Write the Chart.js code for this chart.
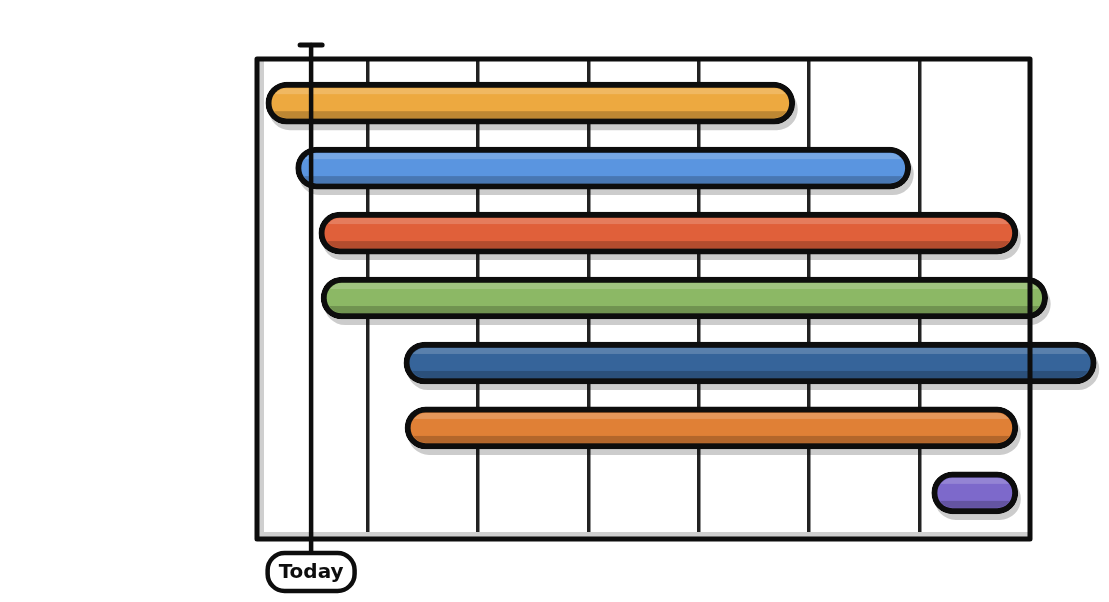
<!DOCTYPE html>
<html>
<head>
<meta charset="utf-8">
<script src="https://cdn.jsdelivr.net/npm/chart.js@4"></script>
<style>
  html, body { margin: 0; padding: 0; background: #ffffff; }
  #wrap { width: 1109px; height: 602px; }
</style>
</head>
<body>
<div id="wrap"><canvas id="c" width="1109" height="602"></canvas></div>
<script>
// ---- data ----
const categories = ["Task 1", "Task 2", "Task 3", "Task 4", "Task 5", "Task 6", "Task 7"];
const startValues = [0.08, 0.35, 0.56, 0.58, 1.33, 1.34, 6.11];
const endValues   = [4.87, 5.92, 6.89, 7.16, 7.60, 6.89, 6.89];
const barColors = ["#EDA940", "#5A95E0", "#E0603A", "#8CB865", "#36649A", "#E08036", "#7D69CB"];
const todayValue = 0.49;
const todayLabel = "Today";
const xMin = 0, xMax = 7;

const dataPoints = categories.map((c, i) => ({ x: [startValues[i], endValues[i]], y: i }));

function roundRectPath(ctx, x, y, w, h, r) {
  r = Math.min(r, h / 2, w / 2);
  ctx.beginPath();
  ctx.moveTo(x + r, y);
  ctx.lineTo(x + w - r, y);
  ctx.arc(x + w - r, y + r, r, -Math.PI / 2, 0);
  ctx.lineTo(x + w, y + h - r);
  ctx.arc(x + w - r, y + h - r, r, 0, Math.PI / 2);
  ctx.lineTo(x + r, y + h);
  ctx.arc(x + r, y + h - r, r, Math.PI / 2, Math.PI);
  ctx.lineTo(x, y + r);
  ctx.arc(x + r, y + r, r, Math.PI, Math.PI * 1.5);
  ctx.closePath();
}

const sketchPlugin = {
  id: 'sketch',
  beforeDatasetsDraw(chart) {
    const { ctx, chartArea: a } = chart;
    ctx.save();
    // inner shadow of the frame (left and bottom)
    ctx.fillStyle = '#cfcfcf';
    ctx.fillRect(a.left, a.top, 7, a.bottom - a.top);
    ctx.fillRect(a.left, a.bottom - 7, a.right - a.left, 7);
    // shadows of bars
    const meta = chart.getDatasetMeta(0);
    meta.data.forEach(el => {
      const p = el.getProps(['x', 'y', 'base', 'height'], true);
      const l = Math.min(p.x, p.base), r = Math.max(p.x, p.base);
      ctx.fillStyle = 'rgba(0,0,0,0.2)';
      roundRectPath(ctx, l + 3, p.y - p.height / 2 + 6, r - l, p.height, p.height / 2);
      ctx.fill();
    });
    ctx.restore();
  },
  afterDatasetsDraw(chart) {
    const { ctx, chartArea: a } = chart;
    const meta = chart.getDatasetMeta(0);
    ctx.save();
    meta.data.forEach(el => {
      const p = el.getProps(['x', 'y', 'base', 'height'], true);
      const l = Math.min(p.x, p.base), r = Math.max(p.x, p.base);
      const bw = 6;
      const top = p.y - p.height / 2 + bw, h = p.height - 2 * bw;
      ctx.save();
      roundRectPath(ctx, l + bw, top, r - l - 2 * bw, h, h / 2);
      ctx.clip();
      ctx.fillStyle = 'rgba(255,255,255,0.18)';
      ctx.fillRect(l, top, r - l, 6);
      ctx.fillStyle = 'rgba(0,0,0,0.2)';
      ctx.fillRect(l, top + h - 7, r - l, 7);
      ctx.restore();
    });
    // frame
    ctx.strokeStyle = '#0d0d0d';
    ctx.lineWidth = 5;
    ctx.lineJoin = 'round';
    ctx.strokeRect(a.left, a.top, a.right - a.left, a.bottom - a.top);
    // today line
    const xs = chart.scales.x;
    const tx = xs.getPixelForValue(todayValue);
    ctx.lineCap = 'round';
    ctx.lineWidth = 4.5;
    ctx.beginPath();
    ctx.moveTo(tx, a.top - 14);
    ctx.lineTo(tx, a.bottom + 12);
    ctx.stroke();
    ctx.lineWidth = 5;
    ctx.beginPath();
    ctx.moveTo(tx - 11, a.top - 14);
    ctx.lineTo(tx + 11, a.top - 14);
    ctx.stroke();
    // today label
    ctx.font = 'bold 20px "DejaVu Sans", sans-serif';
    const tw = ctx.measureText(todayLabel).width;
    const bwid = tw + 22, bh = 38;
    const by = a.bottom + 14;
    ctx.fillStyle = '#ffffff';
    roundRectPath(ctx, tx - bwid / 2, by, bwid, bh, 17);
    ctx.fill();
    ctx.lineWidth = 4.5;
    ctx.stroke();
    ctx.fillStyle = '#0d0d0d';
    ctx.textAlign = 'center';
    ctx.textBaseline = 'middle';
    ctx.fillText(todayLabel, tx, by + bh / 2 + 1);
    ctx.restore();
  }
};

new Chart(document.getElementById('c'), {
  type: 'bar',
  data: {
    datasets: [{
      data: dataPoints,
      backgroundColor: barColors,
      borderColor: '#0d0d0d',
      borderWidth: 6,
      borderRadius: 25,
      borderSkipped: false,
      barThickness: 42,
      clip: false
    }]
  },
  options: {
    indexAxis: 'y',
    responsive: false,
    animation: false,
    devicePixelRatio: 1,
    layout: { padding: { left: 0, right: 79, top: 59, bottom: 0 } },
    plugins: { legend: { display: false }, tooltip: { enabled: false } },
    scales: {
      x: {
        type: 'linear',
        min: xMin, max: xMax,
        ticks: { stepSize: 1, display: false },
        grid: { color: '#222222', lineWidth: 3.5, drawTicks: false },
        border: { display: false },
        afterFit(scale) { scale.height = 63; }
      },
      y: {
        type: 'linear',
        reverse: true,
        offset: false,
        min: -0.68, max: 6.71,
        afterBuildTicks(scale) { scale.ticks = categories.map((_, i) => ({ value: i })); },
        ticks: {
          color: '#ffffff',
          font: { size: 20, family: 'Lato' },
          callback: (v) => categories[v] !== undefined ? categories[v] : ''
        },
        grid: { display: false },
        border: { display: false },
        afterFit(scale) { scale.width = 257; }
      }
    }
  },
  plugins: [sketchPlugin]
});
</script>
</body>
</html>
